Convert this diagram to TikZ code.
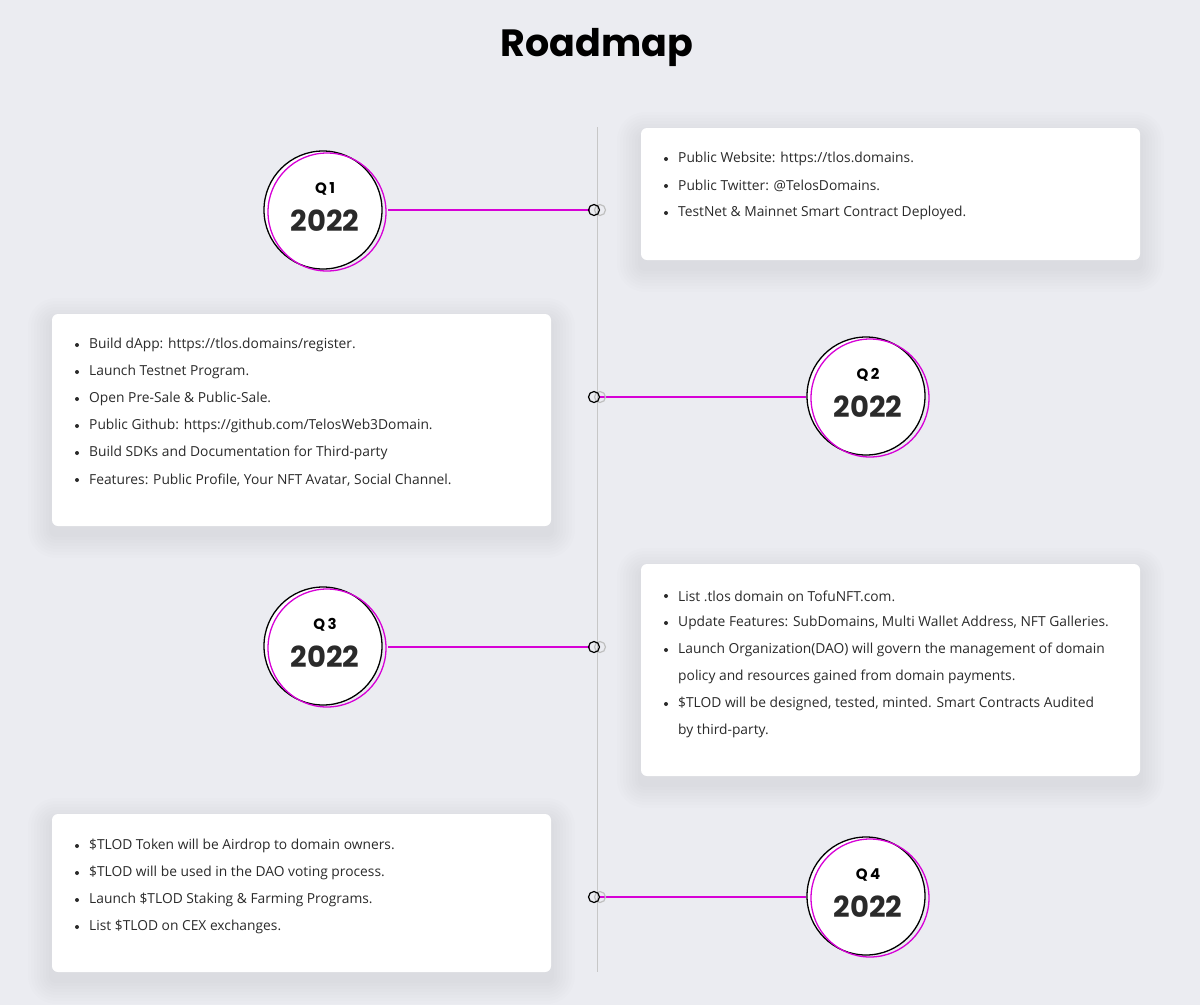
\documentclass[tikz,border=0pt]{standalone}
\usepackage{fontspec}
\setmainfont{Open Sans}
\newfontfamily\pop{Poppins}
\definecolor{bg}{HTML}{EBECF1}
\definecolor{mag}{HTML}{D600D6}
\definecolor{txt}{HTML}{2A2A2A}
\tikzset{x=1pt,y=-1pt,
 card/.style={fill=white,rounded corners=6pt},
 li/.style={anchor=west,font=\fontsize{13.8}{16}\selectfont,text=txt,inner sep=0pt},
 bul/.style={circle,fill=txt,inner sep=0pt,minimum size=4pt},
 conn/.style={mag,line width=1.3pt},
 dotb/.style={circle,draw=black,line width=1.2pt,minimum size=11pt,inner sep=0pt},
 dotg/.style={circle,draw=black!25,line width=1.2pt,minimum size=11pt,inner sep=0pt}}
\newcommand\cardat[4]{%
 \foreach \s in {24,21,18,15,12,9,6,3}{
  \fill[black,opacity=0.008,rounded corners=\s pt+4pt] (#1-\s,#2-\s+8) rectangle (#3+\s,#4+\s+8);}
 \fill[card] (#1,#2) rectangle (#3,#4);}
\newcommand\qcirc[3]{%
 \draw[black,line width=1.3pt,fill=white] (#1-2,#2-1) circle (59);
 \draw[mag,line width=1.3pt] (#1+2,#2+1) circle (59);
 \node[font=\pop\bfseries\fontsize{15}{16}\selectfont] at (#1,#2-22) {Q\,#3};
 \node[font=\pop\bfseries\fontsize{29}{30}\selectfont,text=txt] at (#1,#2+10) {2022};}
\newcommand\items[3]{%
 \foreach \t [count=\i from 0] in {#3}{
  \node[bul] at (#1-12,#2+27*\i) {};
  \node[li] at (#1,#2+27*\i) {\t};}}
\begin{document}
\begin{tikzpicture}
\fill[bg] (0,0) rectangle (1200,1005);
\useasboundingbox (0,0) rectangle (1200,1005);
\node[font=\pop\bfseries\fontsize{38}{40}\selectfont] (title) at (597,47) {Roadmap};
\draw[black!22,line width=1pt] (597,127) -- (597,972);
\cardat{641}{128}{1140}{260}
\cardat{52}{314}{551}{526}
\cardat{641}{564}{1140}{776}
\cardat{52}{814}{551}{972}
\items{678}{159}{Public Website: https://tlos.domains.,Public Twitter: @TelosDomains.,TestNet \& Mainnet Smart Contract Deployed.}
\items{89}{345}{Build dApp: https://tlos.domains/register.,Launch Testnet Program.,Open Pre-Sale \& Public-Sale.,Public Github: https://github.com/TelosWeb3Domain.,Build SDKs and Documentation for Third-party,{Features: Public Profile, Your NFT Avatar, Social Channel.}}
\items{678}{596}{List .tlos domain on TofuNFT.com.,{Update Features: SubDomains, Multi Wallet Address, NFT Galleries.},Launch Organization(DAO) will govern the management of domain}
\node[li] at (678,677) {policy and resources gained from domain payments.};
\node[bul] at (666,704) {};
\node[li] at (678,704) {\$TLOD will be designed, tested, minted. Smart Contracts Audited};
\node[li] at (678,731) {by third-party.};
\items{89}{846}{\$TLOD Token will be Airdrop to domain owners.,\$TLOD will be used in the DAO voting process.,Launch \$TLOD Staking \& Farming Programs.,List \$TLOD on CEX exchanges.}
\qcirc{325}{211}{1}
\qcirc{868}{397}{2}
\qcirc{325}{647}{3}
\qcirc{868}{897}{4}
\foreach \y/\a/\b in {210/388/590,647/388/590}{\draw[conn] (\a,\y) -- (\b,\y);}
\foreach \y in {397,897}{\draw[conn] (599,\y) -- (806,\y);}
\foreach \y in {210,397,647,897}{
 \node[dotg] at (600,\y) {};
 \node[dotb] at (594,\y) {};}
\end{tikzpicture}
\end{document}
